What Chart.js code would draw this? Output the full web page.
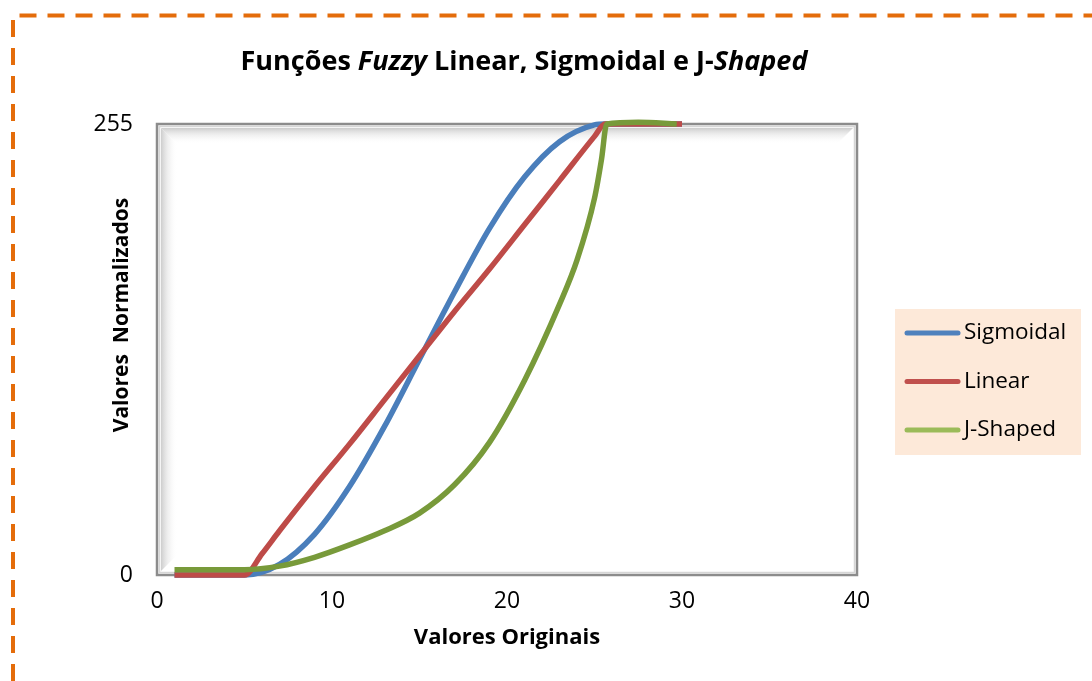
<!DOCTYPE html>
<html>
<head>
<meta charset="utf-8">
<script src="https://cdn.jsdelivr.net/npm/chart.js@4.4.1/dist/chart.umd.min.js"></script>
<style>
  html, body { margin: 0; padding: 0; background: #fff; }
  canvas { display: block; }
</style>
</head>
<body>
<canvas id="fuzzyChart" width="1092" height="681"></canvas>
<script>
// valores
const xSigmoidal = [1, 3, 5, 7, 9, 11, 13, 15, 17, 19, 21, 23, 25, 25.6, 28, 30];
const xLinear    = [1, 3, 5, 6, 7, 9, 11, 13, 15, 17, 19, 21, 23, 25, 25.6, 28, 30];
const xJShaped   = [1, 3, 5, 7, 9, 11, 13, 15, 17, 19, 21, 23, 24, 25, 25.4, 25.7, 27.5, 29.7];
const sigmoidal  = [0, 0, 0, 6, 23, 50, 84, 122, 160, 196, 225, 245, 254.5, 255, 255, 255];
const linear     = [0, 0, 0, 12, 25, 50, 74, 99, 124, 149, 173, 198, 223, 248, 255, 255, 255];
const jShaped    = [3, 3, 3, 5, 10, 17, 25, 35, 51, 75, 110, 153, 178, 213, 235, 255, 256, 255];
const xTicks = [0, 10, 20, 30, 40];
const yTicks = [0, 255];
const seriesNames = ['Sigmoidal', 'Linear', 'J-Shaped'];
const lineColors = ['#4a7ebb', '#be4b48', '#789a3a'];
const legendColors = ['#4f81bd', '#c0504d', '#9bbb59'];

const FONT = "'Open Sans', 'DejaVu Sans', sans-serif";

const toPoints = (xs, ys) => xs.map((x, i) => ({ x: x, y: ys[i] }));

// moldura tracejada laranja, fundo da área de plotagem com bisel
const decorPlugin = {
    id: 'decor',
    beforeDraw(chart) {
        const ctx = chart.ctx;
        ctx.save();
        ctx.strokeStyle = '#e46c0a';
        ctx.lineWidth = 4;
        ctx.setLineDash([17, 11]);
        ctx.beginPath();
        ctx.moveTo(13, 681);
        ctx.lineTo(13, 15.5);
        ctx.lineTo(1092, 15.5);
        ctx.stroke();
        ctx.restore();
    },
    beforeDatasetsDraw(chart) {
        const { ctx, chartArea } = chart;
        const l = chartArea.left, t = chartArea.top, r = chartArea.right, b = chartArea.bottom;
        const band = 16;
        ctx.save();
        let g = ctx.createLinearGradient(0, t + 4, 0, t + 4 + band);
        g.addColorStop(0, 'rgba(205,205,205,1)');
        g.addColorStop(1, 'rgba(255,255,255,0)');
        ctx.fillStyle = g;
        ctx.beginPath();
        ctx.moveTo(l + 4, t + 4);
        ctx.lineTo(r - 4, t + 4);
        ctx.lineTo(r - 4 - band, t + 4 + band);
        ctx.lineTo(l + 4 + band, t + 4 + band);
        ctx.closePath();
        ctx.fill();
        g = ctx.createLinearGradient(l + 4, 0, l + 4 + band, 0);
        g.addColorStop(0, 'rgba(205,205,205,1)');
        g.addColorStop(1, 'rgba(255,255,255,0)');
        ctx.fillStyle = g;
        ctx.beginPath();
        ctx.moveTo(l + 4, t + 4);
        ctx.lineTo(l + 4 + band, t + 4 + band);
        ctx.lineTo(l + 4 + band, b - 4 - band);
        ctx.lineTo(l + 4, b - 4);
        ctx.closePath();
        ctx.fill();
        ctx.strokeStyle = '#d6d6d6';
        ctx.lineWidth = 1.5;
        ctx.strokeRect(l + 2.5, t + 2.5, r - l - 5, b - t - 5);
        ctx.strokeStyle = '#8c8c8c';
        ctx.lineWidth = 2.5;
        ctx.strokeRect(l, t, r - l, b - t);
        ctx.restore();
    },
    afterDraw(chart) {
        const ctx = chart.ctx;
        ctx.save();
        // título com partes em itálico
        const parts = [['Funções ', false], ['Fuzzy', true], [' Linear, Sigmoidal e J-', false], ['Shaped', true]];
        const fontFor = it => (it ? 'italic ' : '') + 'bold 27px ' + FONT;
        const w = parts.reduce((s, p) => { ctx.font = fontFor(p[1]); return s + ctx.measureText(p[0]).width; }, 0);
        let x = 524 - w / 2;
        ctx.fillStyle = '#000';
        ctx.textBaseline = 'alphabetic';
        ctx.textAlign = 'left';
        parts.forEach(p => {
            ctx.font = fontFor(p[1]);
            ctx.fillText(p[0], x, 70);
            x += ctx.measureText(p[0]).width;
        });

        // título do eixo y
        ctx.translate(122, 315);
        ctx.rotate(-Math.PI / 2);
        ctx.font = 'bold 21px ' + FONT;
        ctx.textAlign = 'center';
        ctx.textBaseline = 'middle';
        ctx.fillText('Valores  Normalizados', 0, 0);
        ctx.setTransform(1, 0, 0, 1, 0, 0);

        // legenda
        ctx.fillStyle = '#fde9d9';
        ctx.fillRect(895, 309, 186, 146);
        ctx.font = '22.5px ' + FONT;
        ctx.textAlign = 'left';
        ctx.textBaseline = 'middle';
        chart.data.datasets.forEach((ds, i) => {
            const y = 333 + i * 48.5;
            ctx.strokeStyle = legendColors[i];
            ctx.lineWidth = 5;
            ctx.lineCap = 'round';
            ctx.beginPath();
            ctx.moveTo(907, y);
            ctx.lineTo(958, y);
            ctx.stroke();
            ctx.fillStyle = '#000';
            ctx.fillText(ds.label, 964, y);
        });
        ctx.restore();
    }
};

const datasets = [
    { label: seriesNames[0], data: toPoints(xSigmoidal, sigmoidal), borderColor: lineColors[0], order: 3 },
    { label: seriesNames[1], data: toPoints(xLinear, linear), borderColor: lineColors[1], order: 2 },
    { label: seriesNames[2], data: toPoints(xJShaped, jShaped), borderColor: lineColors[2], order: 1 }
].map(d => Object.assign(d, {
    borderWidth: 5.5,
    pointRadius: 0,
    cubicInterpolationMode: 'monotone',
    fill: false,
    clip: 12
}));

new Chart(document.getElementById('fuzzyChart'), {
    type: 'line',
    data: { datasets: datasets },
    options: {
        responsive: false,
        animation: false,
        devicePixelRatio: 1,
        layout: { padding: { left: 0, right: 235, top: 124, bottom: 30 } },
        plugins: {
            legend: { display: false },
            title: { display: false },
            tooltip: { enabled: false }
        },
        scales: {
            x: {
                type: 'linear',
                min: 0,
                max: 40,
                afterBuildTicks: s => { s.ticks = xTicks.map(v => ({ value: v })); },
                afterFit: s => { s.height = 76; },
                grid: { display: false, drawTicks: false },
                border: { display: false },
                ticks: { color: '#000', font: { family: FONT, size: 23 }, padding: 13, maxRotation: 0 },
                title: { display: true, text: 'Valores Originais', color: '#000', font: { family: FONT, size: 22, weight: 'bold' }, padding: 0 }
            },
            y: {
                min: 0,
                max: 255,
                afterBuildTicks: s => { s.ticks = yTicks.map(v => ({ value: v })); },
                afterFit: s => { s.width = 157; },
                grid: { display: false, drawTicks: false },
                border: { display: false },
                ticks: { color: '#000', font: { family: FONT, size: 23 }, padding: 24 }
            }
        }
    },
    plugins: [decorPlugin]
});
</script>
</body>
</html>
